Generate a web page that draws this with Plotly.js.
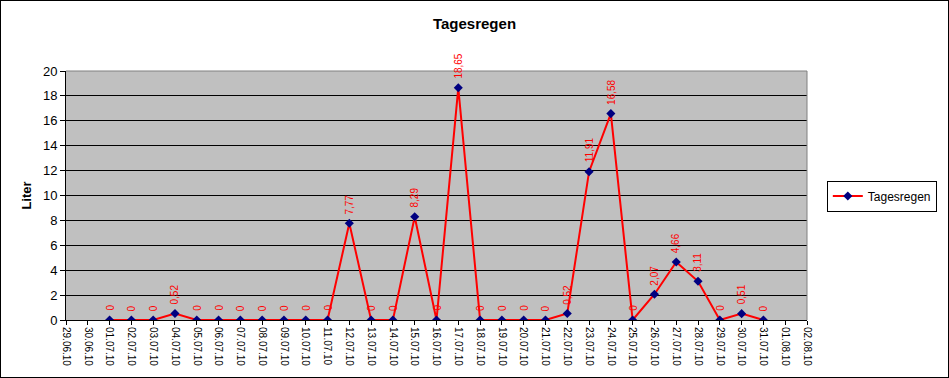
<!DOCTYPE html>
<html>
<head>
<meta charset="utf-8">
<script src="https://cdn.plot.ly/plotly-3.0.1.min.js"></script>
<style>
  html, body { margin: 0; padding: 0; background: #fff; }
  #wrap { position: relative; width: 949px; height: 378px; }
  #chart { width: 949px; height: 378px; }
  #frame { position: absolute; left: 0; top: 0; width: 949px; height: 378px; box-sizing: border-box; border: 1px solid #000; pointer-events: none; }
</style>
</head>
<body>
<div id="wrap"><div id="chart"></div><div id="frame"></div></div>
<script>
// Axis categories (tick labels)
const categories = [
  "29.06.10","30.06.10","01.07.10","02.07.10","03.07.10","04.07.10","05.07.10","06.07.10",
  "07.07.10","08.07.10","09.07.10","10.07.10","11.07.10","12.07.10","13.07.10","14.07.10",
  "15.07.10","16.07.10","17.07.10","18.07.10","19.07.10","20.07.10","21.07.10","22.07.10",
  "23.07.10","24.07.10","25.07.10","26.07.10","27.07.10","28.07.10","29.07.10","30.07.10",
  "31.07.10","01.08.10","02.08.10"
];
// Dates with measurements
const dates = [
  "01.07.10","02.07.10","03.07.10","04.07.10","05.07.10","06.07.10","07.07.10","08.07.10",
  "09.07.10","10.07.10","11.07.10","12.07.10","13.07.10","14.07.10","15.07.10","16.07.10",
  "17.07.10","18.07.10","19.07.10","20.07.10","21.07.10","22.07.10","23.07.10","24.07.10",
  "25.07.10","26.07.10","27.07.10","28.07.10","29.07.10","30.07.10","31.07.10"
];
// Tagesregen (Liter)
const rain = [
  0, 0, 0, 0.52, 0, 0, 0, 0,
  0, 0, 0, 7.77, 0, 0, 8.29, 0,
  18.65, 0, 0, 0, 0, 0.52, 11.91, 16.58,
  0, 2.07, 4.66, 3.11, 0, 0.51, 0
];
const seriesName = "Tagesregen";

const FONT = "Arial, 'Liberation Sans', sans-serif";

const trace = {
  x: dates,
  y: rain,
  type: "scatter",
  mode: "lines+markers",
  name: seriesName,
  line: { color: "#FF0000", width: 2 },
  marker: { symbol: "diamond", size: 7, color: "#000080", line: { color: "#000080", width: 0 } },
  hoverinfo: "skip"
};

const annotations = dates.map((d, i) => ({
  x: d, y: rain[i], xref: "x", yref: "y",
  text: String(rain[i]).replace(".", ","),
  showarrow: false, textangle: -90,
  xanchor: "center", yanchor: "bottom",
  yshift: 8, borderpad: 0,
  font: { family: FONT, size: 10, color: "#FF0000" }
}));

const L = 66, R = 814, T = 71, B = 320;

const layout = {
  width: 949, height: 378,
  margin: { l: L, r: 949 - R, t: T, b: 378 - B, pad: 0 },
  paper_bgcolor: "#FFFFFF",
  plot_bgcolor: "#C0C0C0",
  font: { family: FONT, color: "#000" },
  separators: ",.",
  title: {
    text: "<b>Tagesregen</b>",
    font: { family: FONT, size: 15, color: "#000" },
    x: 0.5, xanchor: "center", y: 1 - 24 / 378, yanchor: "middle"
  },
  xaxis: {
    type: "category",
    categoryorder: "array", categoryarray: categories,
    tickmode: "array", tickvals: categories, ticktext: categories,
    range: [0, categories.length - 1],
    tickangle: 90,
    tickfont: { family: FONT, size: 10, color: "#000" },
    ticks: "outside", ticklen: 4, tickcolor: "#000", tickwidth: 1,
    showgrid: false, zeroline: false,
    showline: true, linecolor: "#000", linewidth: 1,
    fixedrange: true
  },
  yaxis: {
    range: [0, 20], dtick: 2, tick0: 0,
    tickfont: { family: FONT, size: 13, color: "#000" },
    ticks: "outside", ticklen: 5, tickcolor: "#000", tickwidth: 1,
    showgrid: true, gridcolor: "#000", gridwidth: 1,
    zeroline: false,
    showline: true, linecolor: "#000", linewidth: 1,
    title: { text: "<b>Liter</b>", font: { family: FONT, size: 13, color: "#000" }, standoff: 8 },
    fixedrange: true
  },
  showlegend: true,
  legend: {
    x: (834 - L) / (R - L), xanchor: "left",
    y: (B - 196) / (B - T), yanchor: "middle",
    bgcolor: "#FFFFFF", bordercolor: "#000", borderwidth: 1,
    font: { family: FONT, size: 12, color: "#000" },
    itemwidth: 30,
    tracegroupgap: 0
  },
  shapes: [
    { type: "line", xref: "paper", yref: "paper", x0: 0, x1: 1, y0: 1, y1: 1, line: { color: "#808080", width: 1 } },
    { type: "line", xref: "paper", yref: "paper", x0: 1, x1: 1, y0: 0, y1: 1, line: { color: "#808080", width: 1 } }
  ],
  annotations: annotations
};

Plotly.newPlot("chart", [trace], layout, { displayModeBar: false, staticPlot: true });
</script>
</body>
</html>
